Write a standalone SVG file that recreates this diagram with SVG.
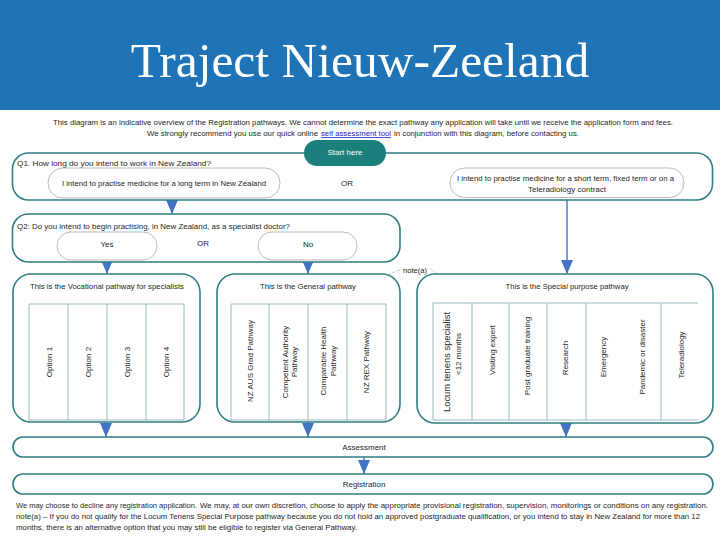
<svg xmlns="http://www.w3.org/2000/svg" width="720" height="540" viewBox="0 0 720 540">
<style>
.t{font-family:"Liberation Sans",Arial,sans-serif;fill:#262626;font-size:8px}
.c{text-anchor:middle}
.box{fill:#fff;stroke:#2f7f83;stroke-width:1.6}
.pill{fill:#fff;stroke:#a9a9a9;stroke-width:0.8}
.grid{fill:none;stroke:#8fb0b4;stroke-width:0.9}
.conn{stroke:#4472c4;stroke-width:1.4;fill:none}
.note{stroke:#9dc3e6;stroke-width:1;fill:none;stroke-dasharray:3 2}
</style>
<defs>
<marker id="ah" markerUnits="userSpaceOnUse" viewBox="0 0 14 12" refX="14" refY="6" markerWidth="14" markerHeight="12" orient="auto">
<path d="M0,0 L14,6 L0,12 Z" fill="#4472c4"/>
</marker>
<marker id="ahn" markerUnits="userSpaceOnUse" viewBox="0 0 10 10" refX="10" refY="5" markerWidth="10" markerHeight="10" orient="auto">
<path d="M0,0 L10,5 L0,10 Z" fill="#9dc3e6"/>
</marker>
</defs>
<rect x="0" y="0" width="720" height="540" fill="#fff"/>
<g id="title">
<rect x="0" y="0" width="720" height="110" fill="#1f73b7"/>
<text x="360" y="77" text-anchor="middle" font-family="'Liberation Serif','Times New Roman',serif" font-size="49.5" fill="#fff">Traject Nieuw-Zeeland</text>
</g>
<g id="intro">
<text class="t" x="53" y="125" font-size="7.8" textLength="620" lengthAdjust="spacingAndGlyphs">This diagram is an indicative overview of the Registration pathways. We cannot determine the exact pathway any application will take until we receive the application form and fees.</text>
<text class="t" x="147" y="136" font-size="7.8" textLength="171" lengthAdjust="spacingAndGlyphs">We strongly recommend you use our quick online</text>
<text class="t" x="321" y="136" font-size="7.8" textLength="70" lengthAdjust="spacingAndGlyphs" style="fill:#2323c8;text-decoration:underline">self assessment tool</text>
<text class="t" x="394" y="136" font-size="7.8" textLength="185" lengthAdjust="spacingAndGlyphs">in conjunction with this diagram, before contacting us.</text>
</g>
<g id="connectors">
<line class="conn" x1="172" y1="198" x2="172" y2="214" marker-end="url(#ah)"/>
<line class="conn" x1="567" y1="197" x2="567" y2="274" marker-end="url(#ah)"/>
<line class="conn" x1="107" y1="260" x2="107" y2="274" marker-end="url(#ah)"/>
<line class="conn" x1="308" y1="260" x2="308" y2="274" marker-end="url(#ah)"/>
<line class="conn" x1="106" y1="421" x2="106" y2="437" marker-end="url(#ah)"/>
<line class="conn" x1="308" y1="421" x2="308" y2="437" marker-end="url(#ah)"/>
<line class="conn" x1="566" y1="421" x2="566" y2="437" marker-end="url(#ah)"/>
<line class="conn" x1="364" y1="457" x2="364" y2="474" marker-end="url(#ah)"/>
<path class="note" d="M400,270 Q372,280 344,302" marker-end="url(#ahn)"/>
<path d="M429,268 Q446,276 450,303" fill="none" stroke="#c9d3d8" stroke-width="0.8"/>
</g>
<g id="q1">
<rect class="box" x="12.5" y="153" width="700" height="47" rx="16"/>
<text class="t" x="17" y="166" textLength="194" lengthAdjust="spacingAndGlyphs">Q1.  How long do you intend to work in New Zealand?</text>
<text class="t c" x="347" y="186">OR</text>
</g>
<g id="q1-long">
<rect class="pill" x="48" y="168" width="232" height="30" rx="15"/>
<text class="t" x="62" y="186" textLength="204" lengthAdjust="spacingAndGlyphs">I intend to practise medicine for a long term in New Zealand</text>
</g>
<g id="q1-short">
<rect class="pill" x="450" y="168" width="234" height="29.5" rx="14.5"/>
<text class="t" x="457" y="181" textLength="217" lengthAdjust="spacingAndGlyphs">I intend to practise medicine for a short term, fixed term or on a</text>
<text class="t c" x="567" y="192" textLength="78" lengthAdjust="spacingAndGlyphs">Teleradiology contract</text>
</g>
<g id="start">
<rect x="304" y="140" width="82" height="26" rx="13" fill="#1b7f7c"/>
<text class="t c" x="345" y="155" style="fill:#fff">Start here</text>
</g>
<g id="q2">
<rect class="box" x="12.5" y="214" width="387.5" height="48" rx="16"/>
<text class="t" x="17" y="228.5" textLength="273" lengthAdjust="spacingAndGlyphs">Q2:  Do you intend to begin practising, in New Zealand, as a specialist doctor?</text>
<text class="t c" x="203" y="246">OR</text>
</g>
<g id="q2-yes">
<rect class="pill" x="57" y="232" width="100" height="28" rx="14"/>
<text class="t c" x="107" y="247">Yes</text>
</g>
<g id="q2-no">
<rect class="pill" x="258" y="232" width="99" height="28" rx="14"/>
<text class="t c" x="308" y="247">No</text>
</g>
<g id="note-a">
<text class="t" x="403" y="272.5" textLength="24" lengthAdjust="spacingAndGlyphs">note(a)</text>
</g>
<g id="vocational">
<rect class="box" x="13" y="274" width="187" height="148" rx="18"/>
<text class="t c" x="107" y="289" textLength="154" lengthAdjust="spacingAndGlyphs">This is the Vocational pathway for specialists</text>
<path class="grid" d="M29,420 V304 H184 V420 H29 M68,304 V420 M107,304 V420 M146,304 V420"/>
<g class="t c" font-size="8.5">
<text transform="translate(49,362) rotate(-90)" y="3">Option 1</text>
<text transform="translate(88,362) rotate(-90)" y="3">Option 2</text>
<text transform="translate(127,362) rotate(-90)" y="3">Option 3</text>
<text transform="translate(166,362) rotate(-90)" y="3">Option 4</text>
</g>
</g>
<g id="general">
<rect class="box" x="217" y="274" width="183" height="148" rx="18"/>
<text class="t c" x="308" y="289" textLength="96" lengthAdjust="spacingAndGlyphs">This is the General pathway</text>
<path class="grid" d="M231,420 V304 H386 V420 H231 M269,304 V420 M308,304 V420 M347,304 V420"/>
<g class="t c" font-size="9">
<text transform="translate(250,361) rotate(-90)" y="3">NZ AUS Grad Pathway</text>
<text transform="translate(285,362) rotate(-90)" y="3">Competent Authority</text>
<text transform="translate(294,362) rotate(-90)" y="3">Pathway</text>
<text transform="translate(323,361) rotate(-90)" y="3">Comparable Health</text>
<text transform="translate(333,361) rotate(-90)" y="3">Pathway</text>
<text transform="translate(366,362) rotate(-90)" y="3">NZ REX Pathway</text>
</g>
</g>
<g id="special">
<rect class="box" x="417" y="274" width="296" height="149" rx="18"/>
<text class="t c" x="567" y="289" textLength="123" lengthAdjust="spacingAndGlyphs">This is the Special purpose pathway</text>
<path class="grid" d="M433,420 V303 H698 M433,420 H698 M472,303 V420 M509,303 V420 M547,303 V420 M586,303 V420 M661,303 V420"/>
<g class="t c" font-size="8">
<text transform="translate(447,362) rotate(-90)" y="3.3" font-size="9.4">Locum tenens specialist</text>
<text transform="translate(458,354) rotate(-90)" y="3">&lt;12 months</text>
<text transform="translate(492,350) rotate(-90)" y="3">Visiting expert</text>
<text transform="translate(527,356) rotate(-90)" y="3">Post graduate training</text>
<text transform="translate(565,358) rotate(-90)" y="3">Research</text>
<text transform="translate(603,357) rotate(-90)" y="3">Emergency</text>
<text transform="translate(642,357) rotate(-90)" y="3">Pandemic or disaster</text>
<text transform="translate(681,355) rotate(-90)" y="3">Teleradiology</text>
</g>
</g>
<g id="assessment">
<rect class="box" x="13" y="437" width="700" height="20" rx="10"/>
<text class="t c" x="364" y="450" font-size="7.5">Assessment</text>
</g>
<g id="registration">
<rect class="box" x="13" y="474" width="700" height="20" rx="10"/>
<text class="t c" x="364" y="487" font-size="7.5">Registration</text>
</g>
<g id="footer">
<text class="t" x="16" y="507.5" font-size="7" textLength="181" lengthAdjust="spacingAndGlyphs">We may choose to decline any registration application.</text>
<text class="t" x="200" y="507.5" font-size="7" textLength="508" lengthAdjust="spacingAndGlyphs">We may, at our own discretion, choose to apply the appropriate provisional registration, supervision, monitorings or conditions on any registration.</text>
<text class="t" x="16" y="518.5" font-size="7" textLength="684" lengthAdjust="spacingAndGlyphs">note(a) – If you do not qualify for the Locum Tenens Special Purpose pathway because you do not hold an approved postgraduate qualification, or you intend to stay in New Zealand for more than 12</text>
<text class="t" x="16" y="529.5" font-size="7" textLength="341" lengthAdjust="spacingAndGlyphs">months,  there is an alternative option that you may still be eligible to register via General Pathway.</text>
</g>
</svg>
